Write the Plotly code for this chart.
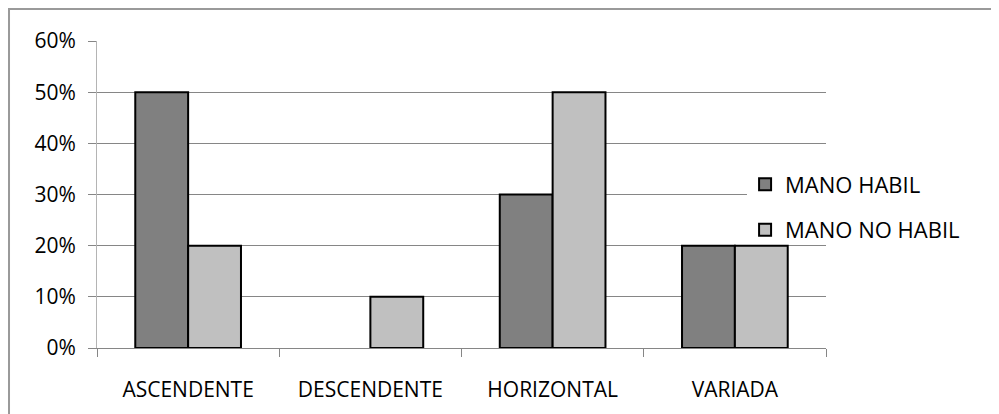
import plotly.graph_objects as go

categories = ["ASCENDENTE", "DESCENDENTE", "HORIZONTAL", "VARIADA"]
mano_habil = [0.50, 0.0, 0.30, 0.20]
mano_no_habil = [0.20, 0.10, 0.50, 0.20]
series_names = ["MANO HABIL", "MANO NO HABIL"]

FONT = "Open Sans"

# no outline on zero-height bars
habil_outline = [2 if v > 0 else 0 for v in mano_habil]
no_habil_outline = [2 if v > 0 else 0 for v in mano_no_habil]

fig = go.Figure()
fig.add_trace(go.Bar(
    x=categories, y=mano_habil, name=series_names[0], legendgroup="a",
    marker=dict(color="#808080", line=dict(color="#000000", width=habil_outline)),
))
fig.add_trace(go.Bar(
    x=categories, y=mano_no_habil, name=series_names[1], legendgroup="b",
    marker=dict(color="#C0C0C0", line=dict(color="#000000", width=no_habil_outline)),
))

fig.update_layout(
    width=999, height=414,
    margin=dict(l=89, r=181, t=33, b=74, pad=0),
    paper_bgcolor="white", plot_bgcolor="white",
    font=dict(family=FONT, size=21, color="#000000"),
    barmode="group", bargap=0.42, bargroupgap=0,
    showlegend=True,
    legend=dict(
        x=0.889, y=0.458, xanchor="left", yanchor="middle",
        bgcolor="rgba(0,0,0,0)", font=dict(family=FONT, size=22),
        tracegroupgap=14, itemclick=False,
    ),
    xaxis=dict(
        type="category", showline=True, linecolor="#868686", linewidth=1,
        ticks="outside", tickson="boundaries", ticklen=8, tickcolor="#868686",
        showgrid=False, ticklabelstandoff=23,
    ),
    yaxis=dict(
        range=[0, 0.6], dtick=0.1, tickformat=".0%",
        showgrid=True, gridcolor="#868686", gridwidth=1,
        showline=True, linecolor="#B4B4B4", linewidth=1,
        ticks="outside", ticklen=8, tickcolor="#868686",
        zeroline=False, ticklabelstandoff=8,
    ),
    shapes=[
        dict(
            type="rect", xref="paper", yref="paper",
            x0=-0.1207, x1=1.6, y0=-0.6, y1=1.104,
            line=dict(color="#9A9A9A", width=2), fillcolor="rgba(0,0,0,0)",
            layer="below",
        ),
        # legend box background hiding the gridline behind it
        dict(
            type="rect", xref="paper", yref="paper",
            x0=0.8916, x1=1.01, y0=0.48, y1=0.52,
            line=dict(width=0), fillcolor="white", layer="above",
        ),
    ],
)

fig.write_html("out.html")
